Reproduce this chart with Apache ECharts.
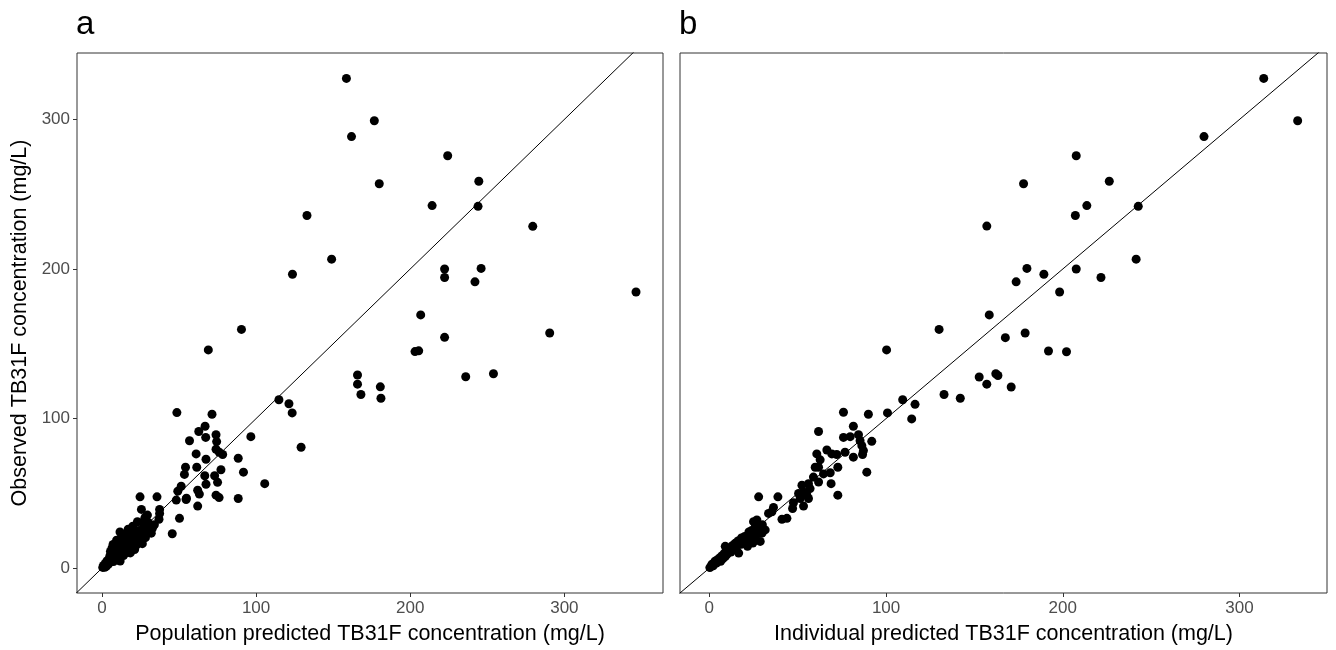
<!DOCTYPE html>
<html>
<head>
<meta charset="utf-8">
<title>TB31F observed vs predicted</title>
<script src="https://cdn.jsdelivr.net/npm/echarts@6/dist/echarts.min.js"></script>
<style>
  html, body { margin: 0; padding: 0; background: #fff; }
  #chart { width: 1336px; height: 650px; }
</style>
</head>
<body>
<div id="chart"></div>
<script>
// Observed vs population-predicted TB31F concentration (mg/L), panel a
const popPredVsObs = [
  [158.6,327.4],[176.7,299.1],[161.9,288.5],[224.3,275.7],[179.9,257.0],[244.5,258.7],[214.2,242.4],[244.0,241.9],
  [133.0,235.8],[279.5,228.5],[149.0,206.6],[123.6,196.5],[222.3,200.0],[222.3,194.3],[246.0,200.4],[242.0,191.4],
  [346.5,184.6],[206.8,169.3],[222.3,154.3],[290.5,157.2],[90.5,159.6],[69.0,145.9],[203.1,144.8],[205.5,145.3],
  [236.0,128.0],[254.0,130.0],[165.8,129.1],[165.8,123.0],[180.6,121.2],[168.0,116.1],[181.0,113.6],
  [114.8,112.6],[121.3,109.9],[123.4,103.8],[129.2,80.8],[48.6,104.0],[71.4,102.9],[66.9,94.9],[62.8,91.4],
  [74.0,89.2],[67.3,87.4],[96.6,87.9],[56.8,85.2],[74.4,84.6],[74.0,79.5],[76.1,77.5],[78.3,76.0],[61.1,76.4],
  [67.5,72.8],[88.4,73.5],[54.2,67.5],[61.5,67.5],[53.5,62.7],[77.2,65.8],[91.8,64.2],[66.7,61.8],[73.1,61.8],
  [75.0,57.4],[67.5,56.1],[105.6,56.5],[51.4,54.8],[49.2,51.5],[62.1,52.1],[63.2,49.5],[74.0,48.8],[76.0,47.2],
  [88.4,46.6],[24.7,47.7],[35.7,47.7],[48.2,45.5],[54.6,45.9],[54.8,46.8],
  [62.1,41.5],[25.6,39.3],[37.4,39.3],[37.4,36.5],[37.0,32.7],[50.3,33.3],[27.7,31.1],[27.7,32.6],[32.7,26.7],
  [31.0,26.8],[32.0,23.4],[45.6,23.0],[13.8,22.3],[11.7,24.2],[17.0,26.0],[20.0,28.0],[23.0,31.0],[28.0,34.0],
  [31.0,24.2],[34.0,29.0],[29.5,35.5],
  [0.5,0.5],[1.0,1.8],[1.8,0.6],[2.2,3.2],[2.8,1.2],[3.2,4.8],[3.5,2.2],[4.2,2.8],[4.5,6.2],[5.0,3.8],
  [5.2,8.4],[5.5,11.2],[6.2,5.2],[6.5,13.4],[7.0,7.2],[7.2,15.8],[7.5,4.4],[8.0,9.2],[8.3,12.4],[8.8,5.8],
  [9.4,15.2],[9.5,18.7],[9.6,8.2],[10.2,11.4],[10.4,6.8],[10.8,17.2],[11.2,13.4],[11.6,9.4],[11.8,4.8],
  [12.4,19.2],[13.0,15.4],[13.2,11.2],[14.0,8.4],[14.6,17.4],[15.0,13.2],[15.6,20.4],[16.2,10.4],[16.4,22.2],
  [17.0,16.2],[17.4,12.6],[18.2,19.4],[18.4,10.2],[19.0,14.4],[19.4,22.4],[20.2,17.2],[20.6,24.4],[21.2,12.4],
  [21.4,20.2],[22.2,15.2],[22.6,22.4],[23.4,18.2],[24.0,25.2],[24.6,17.8],[25.2,21.2],[26.0,23.4],[26.2,16.4],
  [27.0,28.2],[28.2,20.4],[29.0,25.2],[30.0,30.6]
];

// Observed vs individual-predicted TB31F concentration (mg/L), panel b
const indPredVsObs = [
  [313.7,327.4],[332.9,299.1],[279.9,288.5],[207.6,275.7],[177.8,257.0],[226.3,258.7],[213.6,242.4],[242.7,241.9],
  [207.1,235.8],[157.0,228.7],[241.5,206.6],[179.7,200.4],[189.3,196.5],[207.6,200.0],[173.6,191.4],[221.6,194.3],
  [198.2,184.6],[158.4,169.3],[130.0,159.6],[178.7,157.2],[167.5,154.1],[100.3,145.9],[191.9,145.2],[202.1,144.7],
  [152.7,127.8],[162.1,130.0],[163.3,128.8],[157.0,123.0],[170.8,121.1],[132.8,116.1],[142.0,113.6],
  [109.4,112.6],[116.4,109.5],[114.5,99.8],[100.8,103.8],[90.0,102.9],[75.9,104.2],[81.5,94.9],[91.9,84.8],
  [61.8,91.4],[75.9,87.4],[79.7,87.9],[84.4,89.2],[85.3,85.2],[86.3,81.9],[87.2,78.6],[86.7,76.0],[81.5,74.2],
  [76.8,77.5],[66.5,79.0],[72.1,76.0],[69.3,76.4],[60.8,76.4],[62.7,72.4],[59.9,67.5],[61.8,67.5],[72.7,67.5],
  [68.4,63.8],[64.6,63.0],[89.1,64.2],[58.9,60.9],[61.8,57.6],[68.9,56.5],[56.1,56.5],[52.4,55.4],[57.0,53.2],
  [53.3,51.0],[55.2,48.8],[72.7,48.8],[50.5,49.9],[51.4,46.6],[27.9,47.7],[38.8,47.7],[47.6,43.7],
  [56.1,46.6],[53.3,41.5],[47.1,39.9],[36.3,40.6],[35.4,37.7],[33.5,36.6],[41.1,32.7],[43.9,33.3],[31.6,25.6],
  [26.9,32.2],[25.0,31.1],[26.0,27.8],[29.8,23.4],[24.1,22.3],
  [0.3,0.4],[1.0,1.2],[1.5,2.6],[2.2,1.6],[3.0,3.2],[3.2,4.6],[4.0,3.4],[4.6,5.6],[5.2,4.8],[5.8,6.8],
  [6.4,4.6],[7.0,8.2],[7.6,6.2],[8.2,9.6],[9.0,7.8],[9.2,10.8],[9.0,14.6],[10.0,9.2],[10.4,12.2],[11.0,11.0],
  [11.6,13.6],[12.2,10.8],[13.0,12.6],[13.2,15.2],[14.0,14.2],[14.6,16.6],[15.2,12.8],[16.0,15.6],[16.2,18.2],
  [16.6,10.1],[17.2,17.2],[18.0,16.0],[18.2,20.2],[19.0,18.6],[20.0,21.2],[20.2,17.4],[21.0,19.6],[21.6,14.6],
  [22.0,22.2],[22.4,24.2],[23.0,20.2],[24.0,25.2],[24.6,16.8],[25.4,23.2],[26.2,21.2],[27.0,24.2],[28.0,26.2],
  [28.8,17.9],[29.0,27.4],[30.0,29.0]
];

// line of identity (observed = predicted)
const identityLine = [[-50,-50],[400,400]];

const xTickValues = [0, 100, 200, 300];
const yTickValues = [0, 100, 200, 300];

const FONT = "'Liberation Sans', Arial, Helvetica, sans-serif";
const chart = echarts.init(document.getElementById('chart'), null, { renderer: 'canvas' });

function xAxisFor(gridIndex, min, max, title) {
  return {
    type: 'value', gridIndex, min, max,
    splitLine: { show: false },
    axisLine: { show: false, onZero: false },
    axisTick: { show: true, length: 4, customValues: xTickValues, lineStyle: { color: '#333', width: 1 } },
    axisLabel: { customValues: xTickValues, color: '#4d4d4d', fontSize: 17, fontFamily: FONT, margin: 7 },
    name: title, nameLocation: 'middle', nameGap: 30,
    nameTextStyle: { color: '#000', fontSize: 21.5, fontFamily: FONT }
  };
}

const pointStyle = { color: '#000', opacity: 1 };

const option = {
  animation: false,
  backgroundColor: '#fff',
  grid: [
    { left: 77, top: 53, width: 586, height: 544, show: true, borderColor: '#333', borderWidth: 1, backgroundColor: 'transparent' },
    { left: 680, top: 53, width: 647, height: 544, show: true, borderColor: '#333', borderWidth: 1, backgroundColor: 'transparent' }
  ],
  xAxis: [
    xAxisFor(0, -16.2, 364, 'Population predicted TB31F concentration (mg/L)'),
    xAxisFor(1, -16.6, 349.5, 'Individual predicted TB31F concentration (mg/L)')
  ],
  yAxis: [
    {
      type: 'value', gridIndex: 0, min: -16.6, max: 344.4,
      splitLine: { show: false },
      axisLine: { show: false, onZero: false },
      axisTick: { show: true, length: 4, customValues: yTickValues, lineStyle: { color: '#333', width: 1 } },
      axisLabel: { customValues: yTickValues, color: '#4d4d4d', fontSize: 17, fontFamily: FONT, margin: 7 },
      name: 'Observed TB31F concentration (mg/L)', nameLocation: 'middle', nameGap: 46,
      nameTextStyle: { color: '#000', fontSize: 21.5, fontFamily: FONT }
    },
    {
      type: 'value', gridIndex: 1, min: -16.6, max: 344.4,
      splitLine: { show: false },
      axisLine: { show: false, onZero: false },
      axisTick: { show: false },
      axisLabel: { show: false }
    }
  ],
  graphic: [
    { type: 'text', left: 76, top: 8, style: { text: 'a', font: '33px ' + FONT, fill: '#000' } },
    { type: 'text', left: 679, top: 8, style: { text: 'b', font: '33px ' + FONT, fill: '#000' } }
  ],
  series: [
    { type: 'scatter', xAxisIndex: 0, yAxisIndex: 0, data: popPredVsObs, symbol: 'circle', symbolSize: 9,
      itemStyle: pointStyle, silent: true },
    { type: 'scatter', xAxisIndex: 1, yAxisIndex: 1, data: indPredVsObs, symbol: 'circle', symbolSize: 9,
      itemStyle: pointStyle, silent: true },
    { type: 'line', xAxisIndex: 0, yAxisIndex: 0, data: identityLine, symbol: 'none', clip: true, z: 3,
      lineStyle: { color: '#000', width: 1 }, silent: true },
    { type: 'line', xAxisIndex: 1, yAxisIndex: 1, data: identityLine, symbol: 'none', clip: true, z: 3,
      lineStyle: { color: '#000', width: 1 }, silent: true }
  ]
};

chart.setOption(option);
</script>
</body>
</html>
